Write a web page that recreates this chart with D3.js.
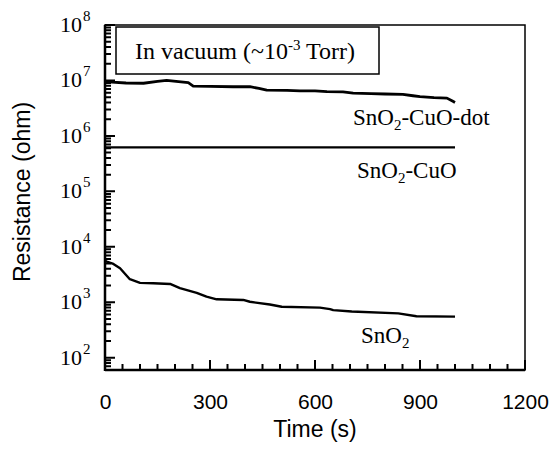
<!DOCTYPE html>
<html>
<head>
<meta charset="utf-8">
<script src="https://cdn.jsdelivr.net/npm/d3@7"></script>
<style>
  body { margin: 0; background: #fff; }
  svg { display: block; }
</style>
</head>
<body>
<svg id="chart" width="555" height="455"></svg>
<script>
// values (time in s, resistance in ohm)
const dotTime = [0, 20, 60, 110, 150, 176, 210, 238, 252, 300, 366, 414, 440, 462, 520, 557, 600, 634, 680, 709, 760, 800, 851, 880, 900, 940, 977, 994, 1000];
const dotRes = [9.6e6, 9.3e6, 9.0e6, 8.9e6, 9.6e6, 1.0e7, 9.5e6, 9.1e6, 7.9e6, 7.8e6, 7.7e6, 7.7e6, 7.2e6, 6.7e6, 6.6e6, 6.5e6, 6.5e6, 6.3e6, 6.2e6, 5.9e6, 5.8e6, 5.7e6, 5.6e6, 5.3e6, 5.1e6, 4.9e6, 4.8e6, 4.2e6, 4.0e6];

const cuoTime = [0, 1000];
const cuoRes = [6.2e5, 6.2e5];

const snoTime = [0, 5, 24, 43, 71, 100, 138, 186, 214, 262, 290, 319, 395, 414, 471, 505, 614, 643, 652, 705, 838, 890, 1000];
const snoRes = [5.6e3, 5.4e3, 4.9e3, 4.1e3, 2.6e3, 2.24e3, 2.2e3, 2.14e3, 1.8e3, 1.48e3, 1.26e3, 1.13e3, 1.1e3, 1.02e3, 910, 830, 800, 750, 720, 680, 630, 560, 550];

const xMajor = [0, 300, 600, 900, 1200];
const yDecades = [2, 3, 4, 5, 6, 7, 8];

const svg = d3.select('#chart');
const plotL = 105, plotR = 525, plotT = 25, plotB = 370;

const x = d3.scaleLinear().domain([0, 1200]).range([plotL, plotR]);
const y = d3.scaleLog().domain([60, 1e8]).range([plotB, plotT]);

const serif = '"Liberation Serif", "Times New Roman", serif';
const sans = '"Liberation Sans", Arial, sans-serif';

// frame
svg.append('rect')
    .attr('x', plotL).attr('y', plotT)
    .attr('width', plotR - plotL).attr('height', plotB - plotT)
    .attr('fill', 'none').attr('stroke', '#000').attr('stroke-width', 1.5);
svg.append('line')
    .attr('x1', plotL).attr('x2', plotL).attr('y1', plotT).attr('y2', plotB + 1)
    .attr('stroke', '#000').attr('stroke-width', 2.5);
svg.append('line')
    .attr('x1', plotL).attr('x2', plotR).attr('y1', plotB).attr('y2', plotB)
    .attr('stroke', '#000').attr('stroke-width', 2.5);

// inward ticks, drawn as one path per axis
const isDecade = v => Math.abs(Math.log10(v) - Math.round(Math.log10(v))) < 1e-6;
const yPath = d3.path();
y.ticks().forEach(v => {
    yPath.moveTo(plotL, y(v));
    yPath.lineTo(plotL + (isDecade(v) ? 10 : 6), y(v));
});
const xPath = d3.path();
d3.range(0, 1201, 50).forEach(v => {
    xPath.moveTo(x(v), plotB);
    xPath.lineTo(x(v), plotB - (v % 300 === 0 ? 10 : 6));
});
svg.append('path').attr('d', yPath.toString())
    .attr('fill', 'none').attr('stroke', '#000').attr('stroke-width', 2);
svg.append('path').attr('d', xPath.toString())
    .attr('fill', 'none').attr('stroke', '#000').attr('stroke-width', 2);

// x tick labels
const xAxis = svg.append('g')
    .attr('transform', `translate(0,${plotB})`)
    .call(d3.axisBottom(x).tickValues(xMajor).tickSize(0).tickPadding(24).tickFormat(d3.format('d')))
    .call(g => g.select('.domain').remove());
xAxis.selectAll('text')
    .attr('font-family', sans)
    .attr('font-size', 21)
    .attr('fill', '#000');

// y tick labels 10^n
svg.append('g').selectAll('text')
    .data(yDecades)
    .join('text')
    .attr('x', 82)
    .attr('y', d => y(Math.pow(10, d)) + 7)
    .attr('text-anchor', 'end')
    .attr('font-family', serif)
    .attr('font-size', 22)
    .text('10');
svg.append('g').selectAll('text')
    .data(yDecades)
    .join('text')
    .attr('x', 83)
    .attr('y', d => y(Math.pow(10, d)) - 4)
    .attr('font-family', serif)
    .attr('font-size', 15)
    .text(d => d);

// series
const line = d3.line().x(d => x(d[0])).y(d => y(d[1]));
const series = [
    { t: dotTime, r: dotRes, w: 2.8 },
    { t: cuoTime, r: cuoRes, w: 2.2 },
    { t: snoTime, r: snoRes, w: 2.4 }
];
svg.append('g').selectAll('path')
    .data(series)
    .join('path')
    .attr('d', s => line(d3.zip(s.t, s.r)))
    .attr('fill', 'none')
    .attr('stroke', '#000')
    .attr('stroke-width', s => s.w)
    .attr('stroke-linejoin', 'round');

// series labels
function chem(xp, yp, parts) {
    const t = svg.append('text')
        .attr('x', xp).attr('y', yp)
        .attr('font-family', serif)
        .attr('font-size', 23)
        .attr('fill', '#000');
    parts.forEach(p => {
        t.append('tspan').text(p[0])
            .attr('font-size', p[1] ? 15 : 23)
            .attr('dy', p[2] || 0);
    });
}
chem(353, 125, [['SnO'], ['2', true, 5], ['-CuO-dot', false, -5]]);
chem(357, 178, [['SnO'], ['2', true, 5], ['-CuO', false, -5]]);
chem(361, 343, [['SnO'], ['2', true, 5]]);

// annotation box
svg.append('rect')
    .attr('x', 116).attr('y', 27)
    .attr('width', 263).attr('height', 47)
    .attr('fill', '#fff').attr('stroke', '#000').attr('stroke-width', 1.5);
const note = svg.append('text')
    .attr('x', 135).attr('y', 59)
    .attr('font-family', serif)
    .attr('font-size', 24)
    .attr('fill', '#000');
note.append('tspan').text('In vacuum (~10');
note.append('tspan').text('-3').attr('font-size', 15).attr('dy', -9);
note.append('tspan').text(' Torr)').attr('dy', 9);

// axis titles
svg.append('text')
    .attr('x', (plotL + plotR) / 2)
    .attr('y', 437)
    .attr('text-anchor', 'middle')
    .attr('font-family', sans)
    .attr('font-size', 23)
    .text('Time (s)');
svg.append('text')
    .attr('transform', 'translate(30,192) rotate(-90)')
    .attr('text-anchor', 'middle')
    .attr('font-family', sans)
    .attr('font-size', 23)
    .text('Resistance (ohm)');
</script>
</body>
</html>
